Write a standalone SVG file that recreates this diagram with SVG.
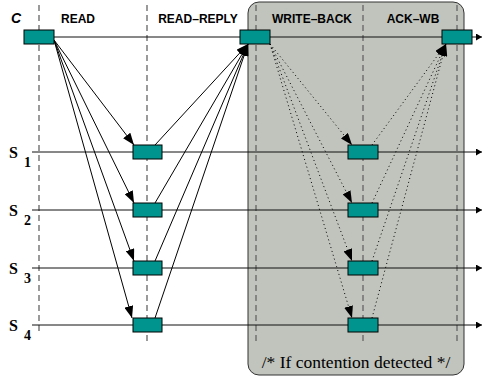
<svg xmlns="http://www.w3.org/2000/svg" width="482" height="381" viewBox="0 0 482 381">
<defs>
<marker id="ah" markerUnits="userSpaceOnUse" markerWidth="12" markerHeight="9" refX="12" refY="4.5" orient="auto"><path d="M0,0 L12,4.5 L0,9 z" fill="#000"/></marker>
<marker id="ht" markerUnits="userSpaceOnUse" markerWidth="6" markerHeight="7" refX="6" refY="3.5" orient="auto"><path d="M0,0 L6,3.5 L0,7 z" fill="#000"/></marker>
</defs>
<style>
.dash{stroke:#666;stroke-width:1.3;stroke-dasharray:6,4;fill:none}
.tl{stroke:#111;stroke-width:1;fill:none}
.node{fill:#00948f;stroke:#000;stroke-width:1}
.hdr{font-family:"Liberation Sans",Arial,sans-serif;font-weight:bold;font-size:12px;fill:#000}
.srv{font-family:"Liberation Serif","Times New Roman",serif;font-weight:bold;fill:#000}
.sol{stroke:#000;stroke-width:1;fill:none;marker-end:url(#ah)}
.dot{stroke:#000;stroke-width:1;stroke-dasharray:1,3;fill:none;marker-end:url(#ah)}
</style>
<rect x="248" y="2" width="216" height="373" rx="11" fill="#c0c4bd" stroke="#333" stroke-width="1"/>
<g id="phases">
<line class="dash" x1="39" y1="5" x2="39" y2="334"/>
<line class="dash" x1="147" y1="5" x2="147" y2="342"/>
<line class="dash" x1="256" y1="5" x2="256" y2="345"/>
<line class="dash" x1="363" y1="5" x2="363" y2="345"/>
<line class="dash" x1="457" y1="5" x2="457" y2="345"/>
</g>
<g id="timelines">
<line class="tl" x1="54" y1="37" x2="482" y2="37" marker-end="url(#ht)"/>
<line class="tl" x1="32" y1="152" x2="482" y2="152" marker-end="url(#ht)"/>
<line class="tl" x1="32" y1="210" x2="482" y2="210" marker-end="url(#ht)"/>
<line class="tl" x1="32" y1="268" x2="482" y2="268" marker-end="url(#ht)"/>
<line class="tl" x1="32" y1="325" x2="482" y2="325" marker-end="url(#ht)"/>
</g>
<g id="labels">
<text x="11" y="23" font-family="Liberation Sans,Arial,sans-serif" font-weight="bold" font-style="italic" font-size="14">C</text>
<text class="hdr" x="78" y="23" text-anchor="middle">READ</text>
<text class="hdr" x="198" y="23" text-anchor="middle">READ–REPLY</text>
<text class="hdr" x="312" y="23" text-anchor="middle">WRITE–BACK</text>
<text class="hdr" x="413" y="23" text-anchor="middle">ACK–WB</text>
<text class="srv" x="9" y="158" font-size="16">S</text><text class="srv" x="24" y="167" font-size="14">1</text>
<text class="srv" x="9" y="216" font-size="16">S</text><text class="srv" x="24" y="225" font-size="14">2</text>
<text class="srv" x="9" y="274" font-size="16">S</text><text class="srv" x="24" y="283" font-size="14">3</text>
<text class="srv" x="9" y="331" font-size="16">S</text><text class="srv" x="24" y="340" font-size="14">4</text>
<text x="356" y="368" text-anchor="middle" font-family="Liberation Serif,Times New Roman,serif" font-size="17.5" fill="#000">/* If contention detected */</text>
</g>
<g id="connectors">
<line class="sol" x1="54" y1="40" x2="134" y2="145"/>
<line class="sol" x1="54" y1="40" x2="134" y2="203"/>
<line class="sol" x1="54" y1="40" x2="134" y2="261"/>
<line class="sol" x1="54" y1="40" x2="132" y2="318"/>
<line class="sol" x1="155" y1="145" x2="248" y2="44"/>
<line class="sol" x1="155" y1="203" x2="248" y2="44"/>
<line class="sol" x1="155" y1="261" x2="248" y2="44"/>
<line class="sol" x1="155" y1="318" x2="248" y2="44"/>
<line class="dot" x1="270" y1="44" x2="352" y2="145"/>
<line class="dot" x1="270" y1="44" x2="352" y2="203"/>
<line class="dot" x1="270" y1="44" x2="352" y2="261"/>
<line class="dot" x1="270" y1="44" x2="352" y2="318"/>
<line class="dot" x1="372" y1="145" x2="446" y2="44"/>
<line class="dot" x1="372" y1="203" x2="446" y2="44"/>
<line class="dot" x1="372" y1="261" x2="446" y2="44"/>
<line class="dot" x1="372" y1="318" x2="446" y2="44"/>
</g>
<g id="c"><rect class="node" x="24" y="30" width="30" height="14"/></g>
<g id="read-reply"><rect class="node" x="240" y="30" width="30" height="14"/></g>
<g id="ack-wb"><rect class="node" x="442" y="30" width="30" height="14"/></g>
<g id="s1-read"><rect class="node" x="133" y="145" width="29" height="14"/></g>
<g id="s2-read"><rect class="node" x="133" y="203" width="29" height="14"/></g>
<g id="s3-read"><rect class="node" x="133" y="261" width="29" height="14"/></g>
<g id="s4-read"><rect class="node" x="133" y="318" width="29" height="14"/></g>
<g id="s1-wb"><rect class="node" x="348" y="145" width="30" height="14"/></g>
<g id="s2-wb"><rect class="node" x="348" y="203" width="30" height="14"/></g>
<g id="s3-wb"><rect class="node" x="348" y="261" width="30" height="14"/></g>
<g id="s4-wb"><rect class="node" x="348" y="318" width="30" height="14"/></g>
</svg>
